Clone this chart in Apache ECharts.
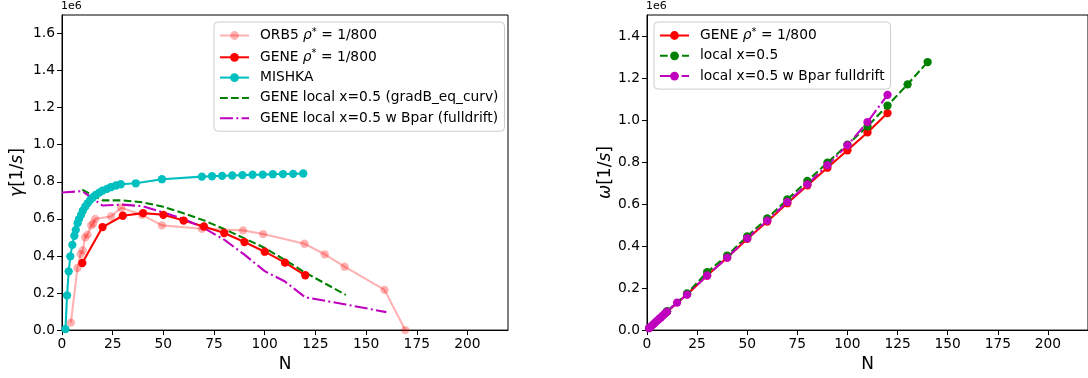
<!DOCTYPE html>
<html><head><meta charset="utf-8">
<script src="https://cdn.jsdelivr.net/npm/echarts@6/dist/echarts.min.js"></script>
<style>html,body{margin:0;padding:0;background:#fff}#c{width:1088px;height:378px}</style>
</head><body><div id="c"></div>
<script>
// ---- data (values in units of 1e6) ----
const xTicks = [0, 25, 50, 75, 100, 125, 150, 175, 200];
const yTicksL = [0, 0.2, 0.4, 0.6, 0.8, 1.0, 1.2, 1.4, 1.6];
const yTicksR = [0, 0.2, 0.4, 0.6, 0.8, 1.0, 1.2, 1.4];

const orb5N = [4.4, 7.6, 9.2, 10.2, 11.4, 12.6, 14.4, 15.4, 16.4, 24.2, 29.2, 39.4, 49.3, 69, 89.3, 99.2, 119.6, 129.6, 139.4, 159.1, 169.3];
const orb5G = [0.04, 0.335, 0.41, 0.43, 0.5, 0.515, 0.565, 0.575, 0.6, 0.613, 0.66, 0.622, 0.565, 0.547, 0.538, 0.518, 0.466, 0.409, 0.342, 0.217, 0.0];

const geneN = [10, 20, 30, 40, 50, 60, 70, 80, 90, 100, 110, 120];
const geneG = [0.362, 0.556, 0.617, 0.631, 0.622, 0.591, 0.559, 0.524, 0.475, 0.423, 0.364, 0.296];

const mishkaN = [1.7, 2.5, 3.3, 4.1, 5.1, 6.1, 6.8, 7.7, 8.4, 9.4, 10.3, 11.5, 12.7, 14, 15.3, 16.7, 18.4, 20, 22.2, 24.1, 26.6, 29, 36.4, 49.3, 69, 74, 79, 84, 89, 94, 99, 104, 109, 114, 119];
const mishkaG = [0.005, 0.187, 0.317, 0.398, 0.46, 0.509, 0.541, 0.577, 0.599, 0.622, 0.645, 0.667, 0.685, 0.703, 0.717, 0.73, 0.742, 0.753, 0.762, 0.771, 0.78, 0.787, 0.792, 0.814, 0.828, 0.83, 0.832, 0.834, 0.836, 0.838, 0.839, 0.841, 0.842, 0.843, 0.845];

const localN = [10, 20, 30, 40, 50, 60, 70, 80, 90, 100, 110, 120, 130, 140];
const localG = [0.757, 0.70, 0.70, 0.689, 0.665, 0.630, 0.592, 0.545, 0.495, 0.443, 0.378, 0.31, 0.25, 0.19];

const bparN = [0, 10, 20, 30, 40, 50, 60, 70, 80, 90, 100, 110, 120, 140, 160];
const bparG = [0.742, 0.75, 0.672, 0.677, 0.668, 0.635, 0.60, 0.55, 0.488, 0.407, 0.318, 0.262, 0.177, 0.138, 0.097];

const geneWN = [10, 20, 30, 40, 50, 60, 70, 80, 90, 100, 110, 120];
const geneW = [0.087, 0.170, 0.26, 0.345, 0.434, 0.517, 0.604, 0.689, 0.773, 0.856, 0.941, 1.033];

const localWN = [10, 20, 30, 40, 50, 60, 70, 80, 90, 100, 110, 120, 130, 140];
const localW = [0.09, 0.175, 0.276, 0.355, 0.446, 0.532, 0.622, 0.71, 0.797, 0.883, 0.97, 1.069, 1.17, 1.276];

const bparWN = [1, 2, 3, 4, 5, 6, 7, 8, 9, 10, 15, 20, 30, 40, 50, 60, 70, 80, 90, 100, 110, 120];
const bparW = [0.009, 0.018, 0.026, 0.035, 0.044, 0.053, 0.061, 0.07, 0.079, 0.088, 0.131, 0.169, 0.26, 0.345, 0.437, 0.521, 0.61, 0.694, 0.785, 0.88, 0.99, 1.12];

// ---- styling ----
const FONT = 'DejaVu Sans';
const FS = 13.8;
const LW = 2.1;
const MS = 8.3;
const C_RED = '#ff0000', C_ORB = 'rgba(255,0,0,0.3)', C_CYAN = '#00bfbf', C_GREEN = '#008000', C_MAG = '#bf00bf';
const DASH = [7.7, 3.3];
const DASHDOT = [13, 3.3, 2, 3.3];

const pair = (xs, ys) => xs.map((x, i) => [x, ys[i]]);

const richLegend = {
  n: {fontSize: FS, fontFamily: FONT, color: '#000', lineHeight: 17},
  p: {fontSize: FS, fontFamily: FONT, color: '#000', lineHeight: 17, padding: [0, 0, 0, 6]},
  i: {fontSize: FS, fontFamily: FONT, fontStyle: 'italic', color: '#000', lineHeight: 17},
  s: {fontSize: 10, fontFamily: FONT, color: '#000', verticalAlign: 'top', lineHeight: 17}
};
const legendText = {
  'ORB5': '{p|ORB5 }{i|ρ}{s|*}{n| = 1/800}',
  'GENE': '{p|GENE }{i|ρ}{s|*}{n| = 1/800}',
  'GENE2': '{p|GENE }{i|ρ}{s|*}{n| = 1/800}',
  'MISHKA': '{p|MISHKA}',
  'LOCAL': '{p|GENE local x=0.5 (gradB_eq_curv)}',
  'BPAR': '{p|GENE local x=0.5 w Bpar (fulldrift)}',
  'LOCAL2': '{p|local x=0.5}',
  'BPAR2': '{p|local x=0.5 w Bpar fulldrift}'
};

function xAxis(gi) {
  return {
    gridIndex: gi, type: 'value', min: 0, max: 220,
    axisLine: {show: true, onZero: false, lineStyle: {color: '#000', width: 1}},
    axisTick: {show: true, length: 5, customValues: xTicks, lineStyle: {color: '#000', width: 1}},
    axisLabel: {customValues: xTicks, fontSize: FS, fontFamily: FONT, color: '#000', margin: 7},
    splitLine: {show: false},
    name: 'N', nameLocation: 'middle', nameGap: 24,
    nameTextStyle: {fontSize: 17, fontFamily: FONT, color: '#000'}
  };
}
function yAxis(gi, max, ticks, sym, gap) {
  return {
    gridIndex: gi, type: 'value', min: 0, max: max,
    axisLine: {show: true, onZero: false, lineStyle: {color: '#000', width: 1}},
    axisTick: {show: true, length: 5, customValues: ticks, lineStyle: {color: '#000', width: 1}},
    axisLabel: {customValues: ticks, fontSize: FS, fontFamily: FONT, color: '#000', margin: 7,
      formatter: v => v.toFixed(1)},
    splitLine: {show: false},
    name: '{i|' + sym + '}[1/{i|s}]', nameLocation: 'middle', nameGap: gap,
    nameTextStyle: {fontSize: 17, fontFamily: FONT, color: '#000',
      rich: {i: {fontSize: 17, fontFamily: FONT, fontStyle: 'italic', color: '#000'}}}
  };
}
function lineSeries(name, xi, data, color, type, symbol) {
  return {
    name: name, type: 'line', xAxisIndex: xi, yAxisIndex: xi, data: data,
    symbol: symbol ? 'circle' : 'none', symbolSize: MS, showSymbol: !!symbol,
    lineStyle: {color: color, width: LW, type: type},
    itemStyle: {color: color},
    emphasis: {disabled: true}, animation: false
  };
}

const legendBase = {
  orient: 'vertical', itemWidth: 29, itemHeight: 11, itemGap: 6.3,
  backgroundColor: 'rgba(255,255,255,0.8)', borderColor: '#cccccc', borderWidth: 1, borderRadius: 4,
  formatter: n => legendText[n],
  textStyle: {fontSize: FS, fontFamily: FONT, color: '#000', rich: richLegend},
  selectedMode: false
};

const option = {
  backgroundColor: '#fff',
  animation: false,
  title: [
    {text: '1e6', left: 61, top: 1, padding: 0, textStyle: {fontSize: 11, fontWeight: 'normal', fontFamily: FONT, color: '#000'}},
    {text: '1e6', left: 646, top: 1, padding: 0, textStyle: {fontSize: 11, fontWeight: 'normal', fontFamily: FONT, color: '#000'}}
  ],
  grid: [
    {left: 62, top: 15, width: 446, bottom: 47, show: true, borderColor: '#000', borderWidth: 1, containLabel: false},
    {left: 647, top: 15, right: -7, bottom: 46, show: true, borderColor: '#000', borderWidth: 1, containLabel: false}
  ],
  xAxis: [xAxis(0), xAxis(1)],
  yAxis: [yAxis(0, 1.7, yTicksL, 'γ', 36), yAxis(1, 1.5, yTicksR, 'ω', 31)],
  legend: [
    Object.assign({}, legendBase, {left: 214, top: 22, padding: [5, 6, 6, 5],
      data: ['ORB5', 'GENE', 'MISHKA',
        {name: 'LOCAL', itemStyle: {opacity: 0}},
        {name: 'BPAR', itemStyle: {opacity: 0}}]}),
    Object.assign({}, legendBase, {left: 654, top: 22, padding: [5, 6, 6, 5],
      data: ['GENE2', 'LOCAL2', 'BPAR2']})
  ],
  series: [
    lineSeries('ORB5', 0, pair(orb5N, orb5G), C_ORB, 'solid', true),
    lineSeries('GENE', 0, pair(geneN, geneG), C_RED, 'solid', true),
    lineSeries('MISHKA', 0, pair(mishkaN, mishkaG), C_CYAN, 'solid', true),
    lineSeries('LOCAL', 0, pair(localN, localG), C_GREEN, DASH, false),
    lineSeries('BPAR', 0, pair(bparN, bparG), C_MAG, DASHDOT, false),
    lineSeries('GENE2', 1, pair(geneWN, geneW), C_RED, 'solid', true),
    lineSeries('LOCAL2', 1, pair(localWN, localW), C_GREEN, DASH, true),
    lineSeries('BPAR2', 1, pair(bparWN, bparW), C_MAG, DASHDOT, true)
  ]
};
const chart = echarts.init(document.getElementById('c'), null, {renderer: 'canvas'});
chart.setOption(option);
</script></body></html>
